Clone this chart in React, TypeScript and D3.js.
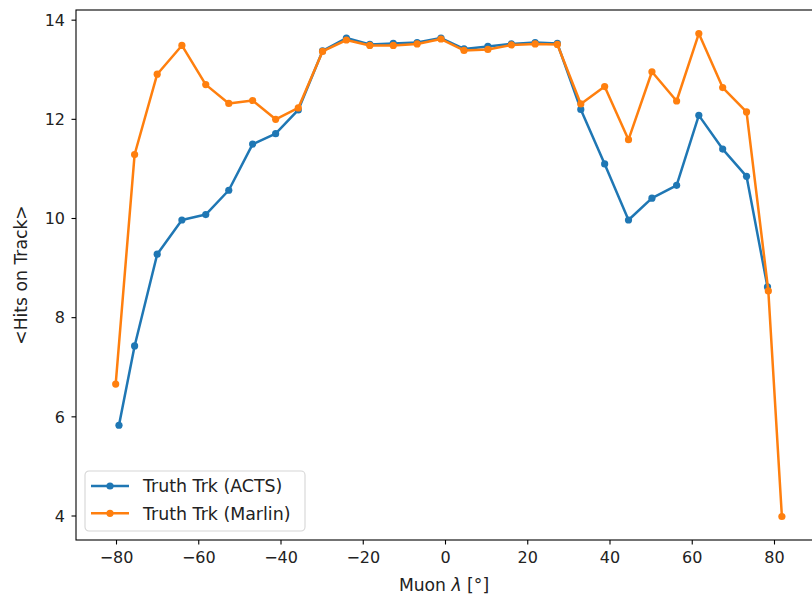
import React from "react";
import * as d3 from "d3";

// Mean muon polar angle per bin and mean number of hits per track
const lambdaActs = [-79.4, -75.6, -70.1, -64.1, -58.3, -52.7, -46.9, -41.3, -35.8, -29.9, -24.1, -18.4, -12.7, -6.9, -1.1, 4.5, 10.3, 16.0, 21.8, 27.2, 32.9, 38.7, 44.5, 50.2, 56.2, 61.6, 67.4, 73.2, 78.3];
const hitsActs = [5.83, 7.43, 9.28, 9.97, 10.08, 10.57, 11.50, 11.71, 12.19, 13.38, 13.64, 13.51, 13.53, 13.55, 13.64, 13.42, 13.47, 13.52, 13.55, 13.53, 12.20, 11.10, 9.97, 10.41, 10.67, 12.08, 11.40, 10.85, 8.62];

const lambdaMarlin = [-80.2, -75.6, -70.1, -64.1, -58.3, -52.7, -46.9, -41.3, -35.8, -29.9, -24.1, -18.4, -12.7, -6.9, -1.1, 4.5, 10.3, 16.0, 21.8, 27.2, 32.9, 38.7, 44.5, 50.2, 56.2, 61.6, 67.4, 73.2, 78.5, 81.8];
const hitsMarlin = [6.66, 11.29, 12.91, 13.49, 12.70, 12.32, 12.38, 12.00, 12.23, 13.37, 13.60, 13.49, 13.49, 13.52, 13.62, 13.39, 13.41, 13.50, 13.52, 13.51, 12.31, 12.66, 11.59, 12.96, 12.37, 13.73, 12.64, 12.15, 8.54, 3.99];

const xTicks = [-80, -60, -40, -20, 0, 20, 40, 60, 80];
const yTicks = [4, 6, 8, 10, 12, 14];

const seriesNames = ["Truth Trk (ACTS)", "Truth Trk (Marlin)"];
const colors = ["#1f77b4", "#ff7f0e"];

const W = 812;
const H = 599;
const left = 76;
const top = 10;
const bottom = 540;
const right = 815;
const font = "DejaVu Sans, sans-serif";

export default function App() {
  const x = d3.scaleLinear().domain([-89.85, 89.85]).range([left, right]);
  const y = d3.scaleLinear().domain([3.516, 14.205]).range([bottom, top]);

  const series = [
    { xs: lambdaActs, ys: hitsActs },
    { xs: lambdaMarlin, ys: hitsMarlin },
  ];

  const line = d3
    .line<[number, number]>()
    .x((d) => x(d[0]))
    .y((d) => y(d[1]));

  const fmt = (v: number) => (v < 0 ? "\u2212" + Math.abs(v) : String(v));

  return (
    <svg
      width={W}
      height={H}
      style={{ position: "absolute", left: 0, top: 0, background: "#fff" }}
      fontFamily={font}
    >
      <rect x={0} y={0} width={W} height={H} fill="#fff" />
      <defs>
        <clipPath id="plotArea">
          <rect x={left} y={top} width={right - left} height={bottom - top} />
        </clipPath>
      </defs>

      {/* series */}
      <g clipPath="url(#plotArea)">
        {series.map((s, i) => {
          const pts = s.xs.map((v, j) => [v, s.ys[j]] as [number, number]);
          return (
            <g key={i}>
              <path d={line(pts) || ""} fill="none" stroke={colors[i]} strokeWidth={2.5} strokeLinejoin="round" strokeLinecap="square" />
              {pts.map((p, j) => (
                <circle key={j} cx={x(p[0])} cy={y(p[1])} r={3.6} fill={colors[i]} />
              ))}
            </g>
          );
        })}
      </g>

      {/* frame */}
      <rect x={left} y={top} width={right - left} height={bottom - top} fill="none" stroke="#000" strokeWidth={1.1} />

      {/* x axis */}
      {xTicks.map((t) => (
        <g key={t} transform={`translate(${x(t)},${bottom})`}>
          <line y1={0} y2={4.5} stroke="#000" strokeWidth={1.1} />
          <text y={22.5} textAnchor="middle" fontSize={16} fill="#222">
            {fmt(t)}
          </text>
        </g>
      ))}
      <text x={(left + 812) / 2} y={591} textAnchor="middle" fontSize={17.2} fill="#222">
        Muon <tspan fontStyle="italic">λ</tspan> [°]
      </text>

      {/* y axis */}
      {yTicks.map((t) => (
        <g key={t} transform={`translate(${left},${y(t)})`}>
          <line x1={0} x2={-4.5} stroke="#000" strokeWidth={1.1} />
          <text x={-11} dy="0.36em" textAnchor="end" fontSize={16} fill="#222">
            {t}
          </text>
        </g>
      ))}
      <text
        transform={`translate(27,${(top + bottom) / 2}) rotate(-90)`}
        textAnchor="middle"
        fontSize={17.2}
        fill="#222"
      >
        {"<Hits on Track>"}
      </text>

      {/* legend */}
      <g transform="translate(85,471)">
        <rect x={0} y={0} width={220} height={60} rx={4} fill="#fff" fillOpacity={0.8} stroke="#d6d6d6" strokeWidth={1.1} />
        {seriesNames.map((name, i) => (
          <g key={name} transform={`translate(0,${15 + i * 27.3})`}>
            <line x1={6} x2={44} y1={0} y2={0} stroke={colors[i]} strokeWidth={2.5} />
            <circle cx={25} cy={0} r={3.6} fill={colors[i]} />
            <text x={58} dy="0.36em" fontSize={17.4} fill="#222">
              {name}
            </text>
          </g>
        ))}
      </g>
    </svg>
  );
}
